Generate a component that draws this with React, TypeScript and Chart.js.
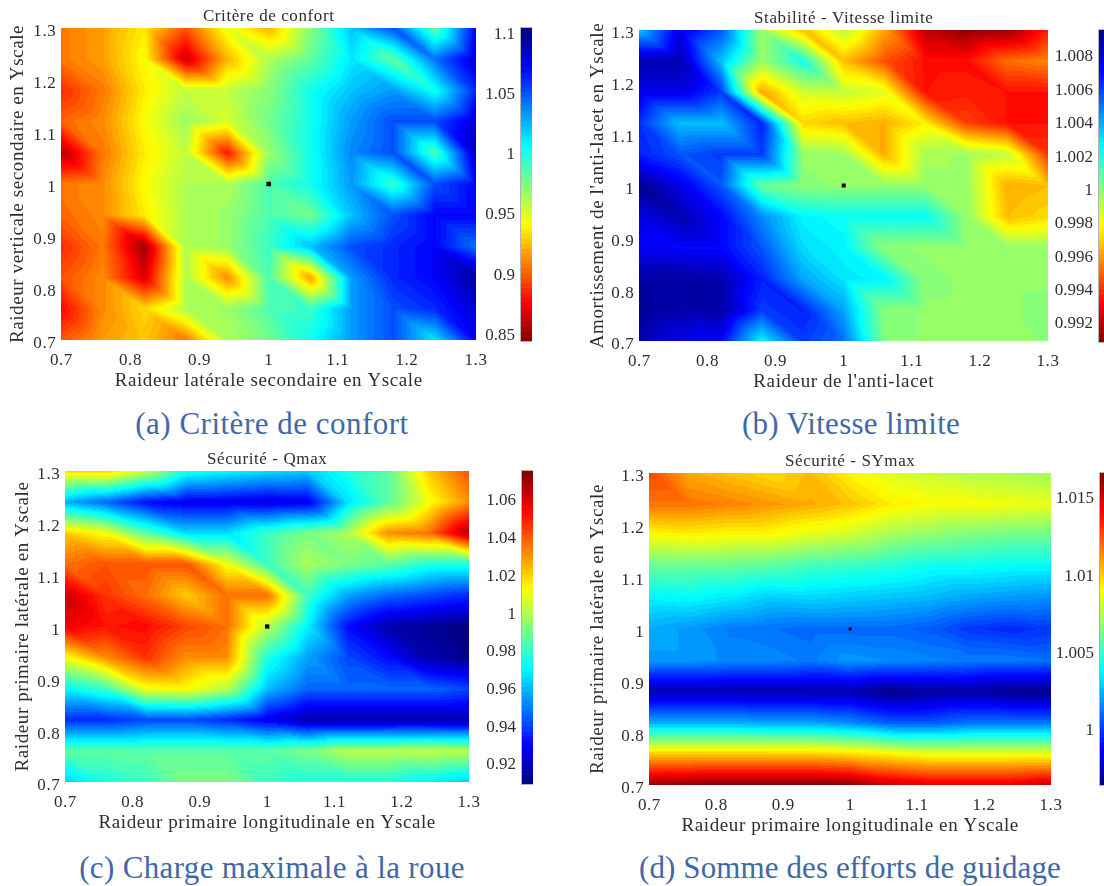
import React, { useEffect, useRef } from "react";
import { Chart, registerables } from "chart.js";

Chart.register(...registerables);

const gridX = [0.7, 0.76, 0.82, 0.88, 0.94, 1.0, 1.06, 1.12, 1.18, 1.24, 1.3];
const gridY = [1.3, 1.24, 1.18, 1.12, 1.06, 1.0, 0.94, 0.88, 0.82, 0.76, 0.7];
const axisTicks = [0.7, 0.8, 0.9, 1, 1.1, 1.2, 1.3];

const confortRows = [
  [0.905, 0.915, 0.935, 0.895, 0.945, 0.92, 0.97, 1.02, 1.05, 0.98, 1.07],
  [0.905, 0.915, 0.94, 0.862, 0.92, 0.96, 0.98, 1.01, 0.98, 1.04, 1.08],
  [0.885, 0.905, 0.935, 0.955, 0.955, 0.97, 1.0, 1.02, 1.03, 1.0, 1.06],
  [0.9, 0.91, 0.94, 0.965, 0.95, 0.975, 1.0, 1.03, 1.05, 1.05, 1.08],
  [0.855, 0.905, 0.935, 0.955, 0.88, 0.965, 1.0, 1.035, 1.05, 0.985, 1.085],
  [0.905, 0.91, 0.94, 0.96, 0.96, 0.985, 1.0, 1.03, 0.99, 1.05, 1.07],
  [0.9, 0.91, 0.935, 0.96, 0.965, 0.985, 0.975, 1.02, 1.05, 1.07, 1.07],
  [0.885, 0.905, 0.85, 0.96, 0.965, 0.99, 1.02, 1.05, 1.06, 1.07, 1.04],
  [0.895, 0.91, 0.865, 0.96, 0.91, 0.985, 0.915, 1.03, 1.06, 1.07, 1.095],
  [0.875, 0.91, 0.93, 0.96, 0.965, 0.985, 0.99, 1.03, 1.05, 1.06, 1.08],
  [0.895, 0.915, 0.925, 0.905, 0.96, 0.975, 1.0, 1.03, 1.05, 1.01, 1.07],
];
const vitesseRows = [
  [1.0035, 1.0075, 1.0055, 0.9995, 0.9965, 0.999, 0.996, 0.9918, 0.991, 0.9912, 0.9935],
  [1.0085, 1.0085, 1.0035, 0.9995, 1.002, 0.9965, 0.9945, 0.9932, 0.9932, 0.995, 0.9955],
  [1.0075, 1.0075, 1.006, 0.996, 0.9985, 0.9988, 0.9982, 0.9933, 0.9935, 0.9933, 0.9933],
  [1.0062, 1.0035, 1.0035, 1.0065, 0.997, 0.9965, 0.9962, 0.9975, 0.9942, 0.9933, 0.9933],
  [1.0065, 1.0055, 1.006, 1.006, 0.9997, 0.9995, 0.9962, 0.9993, 0.9995, 0.9988, 0.994],
  [1.009, 1.0075, 1.0055, 1.0005, 0.9998, 0.9997, 0.9997, 0.9997, 0.9996, 0.9962, 0.9965],
  [1.0075, 1.0085, 1.007, 1.0045, 1.0025, 1.0022, 1.0022, 1.0022, 0.9997, 0.9965, 0.997],
  [1.0072, 1.007, 1.007, 1.0055, 1.003, 1.0025, 0.9998, 0.9997, 0.9997, 0.9997, 0.9997],
  [1.0088, 1.0088, 1.0085, 1.0065, 1.004, 1.0028, 1.0025, 0.9998, 0.9997, 0.9997, 0.9997],
  [1.009, 1.0085, 1.0088, 1.006, 1.0065, 1.004, 0.9999, 0.9997, 0.9997, 0.9997, 0.9998],
  [1.0085, 1.0075, 1.007, 1.0025, 1.006, 1.005, 1.0, 0.9997, 0.9996, 0.9996, 0.9998],
];
const qmaxRows = [
  [1.018, 1.02, 1.003, 0.975, 0.97, 0.965, 0.962, 0.975, 0.985, 1.02, 1.04],
  [0.957, 0.945, 0.93, 0.925, 0.925, 0.923, 0.925, 0.965, 0.985, 1.01, 1.03],
  [1.02, 1.01, 0.985, 0.965, 0.965, 0.98, 0.99, 0.998, 1.03, 1.035, 1.067],
  [1.035, 1.04, 1.04, 1.04, 1.01, 0.98, 0.998, 0.99, 0.985, 0.975, 0.975],
  [1.062, 1.045, 1.035, 1.02, 1.035, 1.035, 0.98, 0.955, 0.945, 0.94, 0.935],
  [1.055, 1.05, 1.052, 1.042, 1.035, 1.0, 0.968, 0.93, 0.915, 0.912, 0.908],
  [1.01, 1.03, 1.045, 1.03, 1.03, 0.975, 0.955, 0.94, 0.93, 0.915, 0.91],
  [0.97, 0.98, 1.01, 1.012, 1.0, 0.96, 0.945, 0.945, 0.945, 0.945, 0.94],
  [0.935, 0.935, 0.94, 0.94, 0.935, 0.925, 0.915, 0.915, 0.915, 0.915, 0.915],
  [0.985, 0.985, 0.985, 0.985, 0.985, 0.985, 0.99, 1.0, 1.0, 1.002, 1.0],
  [0.962, 0.975, 0.98, 0.99, 0.99, 0.98, 0.975, 0.975, 0.975, 0.968, 0.962],
];
const symaxRows = [
  [1.0125, 1.0105, 1.01, 1.0095, 1.0102, 1.009, 1.0082, 1.0078, 1.0073, 1.0072, 1.007],
  [1.0116, 1.0116, 1.0113, 1.0109, 1.0105, 1.01, 1.0092, 1.0088, 1.0088, 1.0086, 1.0084],
  [1.0088, 1.009, 1.0088, 1.0088, 1.0082, 1.0078, 1.007, 1.0066, 1.0062, 1.006, 1.006],
  [1.0058, 1.0058, 1.0058, 1.0055, 1.005, 1.0048, 1.0045, 1.004, 1.004, 1.0038, 1.0038],
  [1.0036, 1.0038, 1.0034, 1.0028, 1.003, 1.0028, 1.0026, 1.0024, 1.002, 1.0018, 1.0016],
  [1.0022, 1.0018, 1.0012, 1.001, 1.0008, 1.0008, 1.0008, 1.0005, 0.9998, 0.9995, 0.9998],
  [1.0018, 1.0018, 1.0015, 1.0015, 1.0012, 1.0018, 1.0016, 1.0014, 1.0012, 1.0012, 1.001],
  [0.9972, 0.9972, 0.9972, 0.9972, 0.9972, 0.9972, 0.9965, 0.9968, 0.997, 0.9965, 0.9965],
  [1.0022, 1.0022, 1.0022, 1.002, 1.002, 1.0015, 1.0005, 1.0005, 1.001, 1.001, 1.001],
  [1.0098, 1.0098, 1.0098, 1.0098, 1.0098, 1.0095, 1.009, 1.0085, 1.0085, 1.0085, 1.0085],
  [1.016, 1.0162, 1.0164, 1.0164, 1.0164, 1.0162, 1.015, 1.0145, 1.0145, 1.0145, 1.015],
];

const confortBarTicks = [0.85, 0.9, 0.95, 1, 1.05, 1.1];
const vitesseBarTicks = [0.992, 0.994, 0.996, 0.998, 1, 1.002, 1.004, 1.006, 1.008];
const qmaxBarTicks = [0.92, 0.94, 0.96, 0.98, 1, 1.02, 1.04, 1.06];
const symaxBarTicks = [1, 1.005, 1.01, 1.015];

const centerPoint = [{ x: 1, y: 1 }];

const TEXT = "#2e2e2e";
const FONT = "'Liberation Serif', serif";
const LEVELS = 64;

type Panel = {
  title: string; xTitle: string; yTitle: string; caption: string;
  rows: number[][]; barTicks: number[]; min: number; max: number; reversed: boolean;
  L: number; R: number; T: number; B: number; yTitleX: number; marker: number;
  barL: number; barR: number; barT: number; barB: number; capX: number; capY: number; capSp: number;
};

const panels: Panel[] = [
  { title: "Critère de confort", xTitle: "Raideur latérale secondaire en Yscale", yTitle: "Raideur verticale secondaire en Yscale",
    caption: "(a) Critère de confort", rows: confortRows, barTicks: confortBarTicks, min: 0.842, max: 1.102, reversed: true,
    L: 61, R: 476, T: 28, B: 340, yTitleX: 18, marker: 3.2, barL: 521, barR: 532, barT: 28, barB: 341, capX: 272, capY: 424, capSp: 0.5 },
  { title: "Stabilité - Vitesse limite", xTitle: "Raideur de l'anti-lacet", yTitle: "Amortissement de l'anti-lacet en Yscale",
    caption: "(b) Vitesse limite", rows: vitesseRows, barTicks: vitesseBarTicks, min: 0.99068, max: 1.00938, reversed: true,
    L: 639, R: 1048, T: 30, B: 341, yTitleX: 598, marker: 2.8, barL: 1099, barR: 1104, barT: 30, barB: 342, capX: 851, capY: 424, capSp: 0.3 },
  { title: "Sécurité - Qmax", xTitle: "Raideur primaire longitudinale en Yscale", yTitle: "Raideur primaire latérale en Yscale",
    caption: "(c) Charge maximale à la roue", rows: qmaxRows, barTicks: qmaxBarTicks, min: 0.9078, max: 1.0738, reversed: false,
    L: 65, R: 469, T: 471, B: 782, yTitleX: 23, marker: 3, barL: 522, barR: 533, barT: 471, barB: 784, capX: 272, capY: 868, capSp: 0.35 },
  { title: "Sécurité - SYmax", xTitle: "Raideur primaire longitudinale en Yscale", yTitle: "Raideur primaire latérale en Yscale",
    caption: "(d) Somme des efforts de guidage", rows: symaxRows, barTicks: symaxBarTicks, min: 0.99624, max: 1.01642, reversed: false,
    L: 649, R: 1051, T: 473, B: 785, yTitleX: 598, marker: 2.2, barL: 1100, barR: 1104, barT: 473, barB: 785, capX: 850, capY: 868, capSp: 0.1 },
];

function jet(p: number): [number, number, number] {
  const c = (v: number) => Math.round(255 * Math.max(0, Math.min(1, v)));
  return [c(1.5 - Math.abs(4 * p - 3)), c(1.5 - Math.abs(4 * p - 2)), c(1.5 - Math.abs(4 * p - 1))];
}
function colorOf(v: number, p: Panel): [number, number, number] {
  let t = (v - p.min) / (p.max - p.min);
  t = Math.max(0, Math.min(0.9999, t));
  t = (Math.floor(t * LEVELS) + 0.5) / LEVELS;
  return jet(p.reversed ? 1 - t : t);
}
function cellIndex(axis: number[], value: number): number {
  for (let i = 0; i < axis.length - 2; i++) {
    const a = axis[i], b = axis[i + 1];
    if ((value - a) * (value - b) <= 0) return i;
  }
  return axis.length - 2;
}

function heatPlugin(p: Panel) {
  return {
    id: "heat",
    beforeDraw(chart: any) {
      chart.ctx.letterSpacing = "0.6px";
    },
    beforeDatasetsDraw(chart: any) {
      const { left, top, right, bottom } = chart.chartArea;
      const xs = chart.scales.x, ys = chart.scales.y;
      const w = Math.round(right - left), h = Math.round(bottom - top);
      const off = document.createElement("canvas");
      off.width = w; off.height = h;
      const oc = off.getContext("2d")!;
      const img = oc.createImageData(w, h);
      for (let j = 0; j < h; j++) {
        const y = ys.getValueForPixel(top + j + 0.5);
        const r = cellIndex(gridY, y);
        const v = (gridY[r] - y) / (gridY[r] - gridY[r + 1]);
        for (let i = 0; i < w; i++) {
          const x = xs.getValueForPixel(left + i + 0.5);
          const c = cellIndex(gridX, x);
          const u = (x - gridX[c]) / (gridX[c + 1] - gridX[c]);
          const tl = p.rows[r][c], tr = p.rows[r][c + 1], bl = p.rows[r + 1][c], br = p.rows[r + 1][c + 1];
          const val = u >= v ? tl + u * (tr - tl) + v * (br - tr) : tl + v * (bl - tl) + u * (br - bl);
          const col = colorOf(val, p);
          const k = (j * w + i) * 4;
          img.data[k] = col[0]; img.data[k + 1] = col[1]; img.data[k + 2] = col[2]; img.data[k + 3] = 255;
        }
      }
      oc.putImageData(img, 0, 0);
      const ctx = chart.ctx;
      ctx.save();
      ctx.filter = "blur(0.5px)";
      ctx.drawImage(off, left, top);
      ctx.restore();
    },
  };
}

function barPlugin(p: Panel) {
  return {
    id: "bar",
    beforeDatasetsDraw(chart: any) {
      const { left, right, top, bottom } = chart.chartArea;
      const ys = chart.scales.y;
      const ctx = chart.ctx;
      for (let n = 0; n < LEVELS; n++) {
        const lo = p.min + ((p.max - p.min) * n) / LEVELS;
        const hi = p.min + ((p.max - p.min) * (n + 1)) / LEVELS;
        const t = (n + 0.5) / LEVELS;
        const c = jet(p.reversed ? 1 - t : t);
        ctx.fillStyle = `rgb(${c[0]},${c[1]},${c[2]})`;
        const y0 = ys.getPixelForValue(hi), y1 = ys.getPixelForValue(lo);
        ctx.fillRect(left, y0, right - left, y1 - y0 + 0.6);
      }
      ctx.strokeStyle = "#b4b4b4";
      ctx.lineWidth = 1;
      ctx.strokeRect(left - 0.5, top - 0.5, right - left + 1, bottom - top + 1);
    },
  };
}

const fmt = (v: number) => String(Math.round(v * 1000) / 1000);

function PanelView({ p }: { p: Panel }) {
  const mainRef = useRef<HTMLCanvasElement>(null);
  const barRef = useRef<HTMLCanvasElement>(null);
  useEffect(() => {
    const tickFont = { family: FONT, size: 17 };
    const axisFont = { family: FONT, size: 19, lineHeight: 1.2 };
    const titleFont = { family: FONT, size: 17, lineHeight: 1, weight: "normal" };
    const main = new Chart(mainRef.current!, {
      type: "scatter",
      data: { datasets: [{ data: centerPoint, pointStyle: "rect", pointRadius: p.marker, backgroundColor: "#000", borderColor: "#000", borderWidth: 0, clip: false } as any] },
      plugins: [heatPlugin(p)],
      options: {
        animation: false, responsive: false,
        layout: { padding: { right: 22, left: 0, top: 0, bottom: 0 } },
        plugins: {
          legend: { display: false }, tooltip: { enabled: false },
          title: { display: true, fullSize: false, text: p.title, color: TEXT, font: titleFont, padding: { top: 0, bottom: 3 } },
        },
        scales: {
          x: {
            type: "linear", min: 0.7, max: 1.3,
            afterBuildTicks: (s: any) => { s.ticks = axisTicks.map((value) => ({ value })); },
            afterFit: (s: any) => { s.height = 56; },
            grid: { display: false, drawTicks: false }, border: { display: false },
            ticks: { color: TEXT, font: tickFont, padding: 10, maxRotation: 0, autoSkip: false, callback: (v: any) => fmt(v) },
            title: { display: true, text: p.xTitle, color: TEXT, font: axisFont, padding: { top: 0, bottom: 4 } },
          },
          y: {
            type: "linear", min: 0.7, max: 1.3,
            afterBuildTicks: (s: any) => { s.ticks = axisTicks.map((value) => ({ value })); },
            afterFit: (s: any) => { s.width = p.L - (p.yTitleX - 11.4); },
            grid: { display: false, drawTicks: false }, border: { display: false },
            ticks: { color: TEXT, font: tickFont, padding: 5, labelOffset: 4, autoSkip: false, callback: (v: any) => fmt(v) },
            title: { display: true, text: p.yTitle, color: TEXT, font: axisFont, padding: 0 },
          },
        },
      } as any,
    });
    const bar = new Chart(barRef.current!, {
      type: "scatter",
      data: { datasets: [{ data: [] }] },
      plugins: [barPlugin(p)],
      options: {
        animation: false, responsive: false,
        layout: { padding: { top: 25, bottom: 25, left: 0, right: 0 } },
        plugins: { legend: { display: false }, tooltip: { enabled: false } },
        scales: {
          x: { display: false, min: 0, max: 1 },
          y: {
            type: "linear", min: p.min, max: p.max, position: "left",
            afterBuildTicks: (s: any) => { s.ticks = p.barTicks.map((value) => ({ value })); },
            afterFit: (s: any) => { s.width = 58; },
            grid: { display: false, drawTicks: false }, border: { display: false },
            ticks: { color: TEXT, font: tickFont, padding: 6, labelOffset: 4, autoSkip: false, callback: (v: any) => fmt(v) },
          },
        },
      } as any,
    });
    return () => { main.destroy(); bar.destroy(); };
  }, [p]);

  const mainLeft = p.yTitleX - 11.4;
  const mainTop = p.T - 20;
  const mainW = p.R - mainLeft + 22;
  const mainH = p.B - p.T + 20 + 56;
  const barLeft = p.barL - 58;
  const barH = p.barB - p.barT + 50;
  return (
    <>
      <canvas ref={mainRef} width={mainW} height={mainH} style={{ position: "absolute", left: mainLeft, top: mainTop, width: mainW, height: mainH }} />
      <canvas ref={barRef} width={p.barR - barLeft} height={barH} style={{ position: "absolute", left: barLeft, top: p.barT - 25, width: p.barR - barLeft, height: barH }} />
      <div style={{ position: "absolute", left: p.capX - 270, width: 540, top: p.capY - 20, height: 40, lineHeight: "40px", textAlign: "center", color: "#3f68a8", fontFamily: FONT, fontSize: 31, letterSpacing: p.capSp }}>
        {p.caption}
      </div>
    </>
  );
}

export default function App() {
  useEffect(() => { document.body.style.margin = "0"; }, []);
  return (
    <div style={{ position: "absolute", left: 0, top: 0, width: 1104, height: 886, overflow: "hidden", background: "#fff" }}>
      {panels.map((p) => <PanelView key={p.title} p={p} />)}
    </div>
  );
}
